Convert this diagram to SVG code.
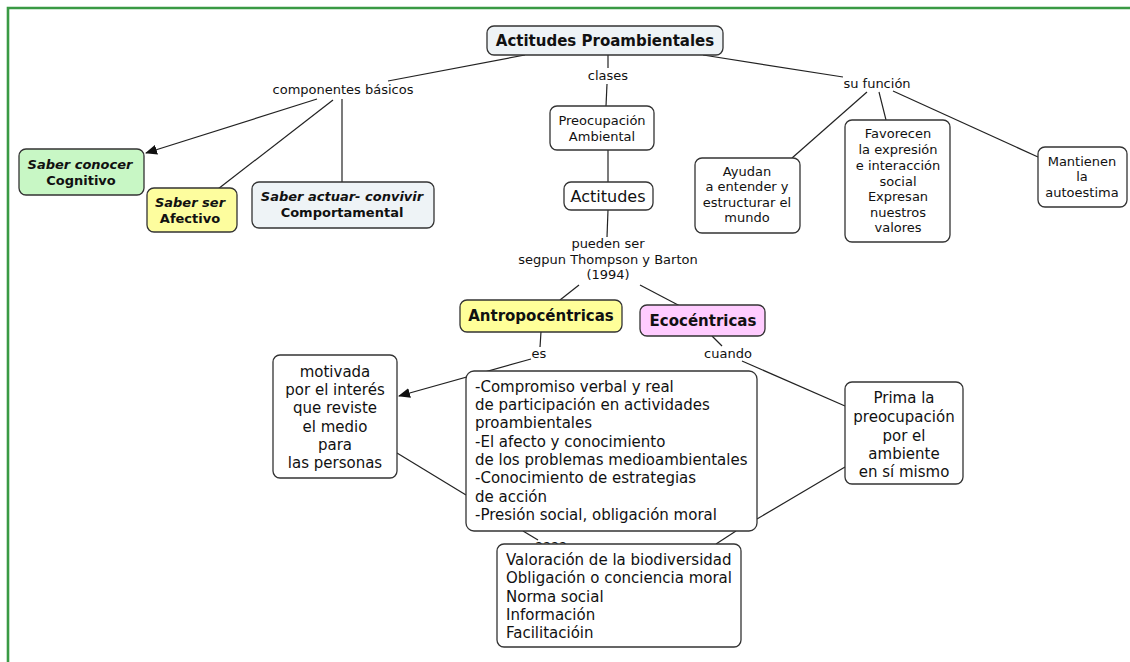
<svg xmlns="http://www.w3.org/2000/svg" width="1130" height="662" viewBox="0 0 1130 662">
<defs>
<style>
text{font-family:"DejaVu Sans",Verdana,"Liberation Sans",sans-serif;fill:#111}
.box{stroke:#333;stroke-width:1.3;fill:#fff}
.c{text-anchor:middle}
.s13{font-size:13px}
.s15{font-size:15px}
.b{font-weight:bold}
.bi{font-weight:bold;font-style:italic}
.ln{stroke:#222;stroke-width:1.2;fill:none}
</style>
<marker id="arr" viewBox="0 0 12 10" refX="11" refY="5" markerWidth="12" markerHeight="10" markerUnits="userSpaceOnUse" orient="auto">
<path d="M0,0 L12,5 L0,10 z" fill="#111"/>
</marker>
</defs>
<rect x="0" y="0" width="1130" height="662" fill="#fff"/>
<path d="M8,662 V8 H1130" fill="none" stroke="#3a9a44" stroke-width="2.6"/>

<g id="connectors">
<line class="ln" x1="525" y1="55" x2="388" y2="81"/>
<line class="ln" x1="317" y1="99" x2="146" y2="153" marker-end="url(#arr)"/>
<line class="ln" x1="333" y1="100" x2="218" y2="189"/>
<line class="ln" x1="342" y1="99" x2="342" y2="182"/>
<line class="ln" x1="608" y1="55" x2="608" y2="68"/>
<line class="ln" x1="607" y1="84" x2="606" y2="106"/>
<line class="ln" x1="608" y1="150" x2="608" y2="182"/>
<line class="ln" x1="608" y1="210" x2="607" y2="237"/>
<line class="ln" x1="579" y1="285" x2="560" y2="300"/>
<line class="ln" x1="640" y1="285" x2="680" y2="306"/>
<line class="ln" x1="541" y1="332" x2="540" y2="347"/>
<line class="ln" x1="531" y1="359" x2="399" y2="396" marker-end="url(#arr)"/>
<line class="ln" x1="397" y1="453" x2="466" y2="495"/>
<line class="ln" x1="712" y1="336" x2="722" y2="346"/>
<line class="ln" x1="742" y1="361" x2="845" y2="406"/>
<line class="ln" x1="845" y1="467" x2="757" y2="519"/>
<line class="ln" x1="523" y1="531" x2="538" y2="540"/>
<line class="ln" x1="736" y1="531" x2="716" y2="544"/>
<line class="ln" x1="703" y1="55" x2="843" y2="77"/>
<line class="ln" x1="867" y1="92" x2="792" y2="158"/>
<line class="ln" x1="879" y1="92" x2="886" y2="120"/>
<line class="ln" x1="893" y1="91" x2="1038" y2="157"/>
</g>

<g id="labels">
<text class="c s13" x="343" y="94">componentes básicos</text>
<text class="c s13" x="608" y="80">clases</text>
<text class="c s13" x="877" y="88">su función</text>
<text class="c s13" x="608" y="248">pueden ser</text>
<text class="c s13" x="608" y="264">segpun Thompson y Barton</text>
<text class="c s13" x="608" y="279">(1994)</text>
<text class="c s13" x="539" y="358">es</text>
<text class="c s13" x="728" y="358">cuando</text>
<text class="s13" x="535" y="549">aaaa</text>
</g>

<g id="n-title">
<rect class="box" x="487" y="26" width="236" height="29" rx="7" fill="#eef3f6" style="fill:#eef3f6"/>
<text class="c b" x="605" y="46" style="font-size:15px">Actitudes Proambientales</text>
</g>

<g id="n-cognitivo">
<rect class="box" x="19" y="149" width="125" height="46" rx="7" style="fill:#c8f7c5"/>
<text class="c s13 bi" x="80" y="169">Saber conocer</text>
<text class="c s13 b" x="81" y="185">Cognitivo</text>
</g>

<g id="n-afectivo">
<rect class="box" x="147" y="188" width="90" height="44" rx="7" style="fill:#fdfd9e"/>
<text class="c s13 bi" x="190" y="207">Saber ser</text>
<text class="c s13 b" x="190" y="223">Afectivo</text>
</g>

<g id="n-comportamental">
<rect class="box" x="252" y="182" width="182" height="46" rx="7" style="fill:#eef3f6"/>
<text class="c s13 bi" x="342" y="201">Saber actuar- convivir</text>
<text class="c s13 b" x="342" y="217">Comportamental</text>
</g>

<g id="n-preocupacion">
<rect class="box" x="550" y="106" width="104" height="44" rx="7"/>
<text class="c s13" x="602" y="125">Preocupación</text>
<text class="c s13" x="602" y="141">Ambiental</text>
</g>

<g id="n-actitudes">
<rect class="box" x="564" y="182" width="89" height="28" rx="7"/>
<text class="c" x="608" y="202" style="font-size:16px">Actitudes</text>
</g>

<g id="n-ayudan">
<rect class="box" x="695" y="158" width="105" height="75" rx="7"/>
<text class="c s13" x="747" y="176">Ayudan</text>
<text class="c s13" x="747" y="191">a entender y</text>
<text class="c s13" x="747" y="207">estructurar el</text>
<text class="c s13" x="747" y="222">mundo</text>
</g>

<g id="n-favorecen">
<rect class="box" x="845" y="120" width="105" height="122" rx="7"/>
<text class="c s13" x="898" y="138">Favorecen</text>
<text class="c s13" x="898" y="154">la expresión</text>
<text class="c s13" x="898" y="170">e interacción</text>
<text class="c s13" x="898" y="186">social</text>
<text class="c s13" x="898" y="201">Expresan</text>
<text class="c s13" x="898" y="217">nuestros</text>
<text class="c s13" x="898" y="232">valores</text>
</g>

<g id="n-mantienen">
<rect class="box" x="1038" y="147" width="89" height="60" rx="7"/>
<text class="c s13" x="1082" y="166">Mantienen</text>
<text class="c s13" x="1082" y="181">la</text>
<text class="c s13" x="1082" y="197">autoestima</text>
</g>

<g id="n-antropocentricas">
<rect class="box" x="460" y="300" width="162" height="32" rx="7" style="fill:#ffff99"/>
<text class="c b" x="541" y="321" style="font-size:15px">Antropocéntricas</text>
</g>

<g id="n-ecocentricas">
<rect class="box" x="640" y="305" width="125" height="31" rx="7" style="fill:#ffccff"/>
<text class="c b" x="703" y="326" style="font-size:15px">Ecocéntricas</text>
</g>

<g id="n-motivada">
<rect class="box" x="273" y="355" width="124" height="123" rx="7"/>
<text class="c s15" x="335" y="377">motivada</text>
<text class="c s15" x="335" y="395">por el interés</text>
<text class="c s15" x="335" y="413">que reviste</text>
<text class="c s15" x="335" y="432">el medio</text>
<text class="c s15" x="335" y="450">para</text>
<text class="c s15" x="335" y="468">las personas</text>
</g>

<g id="n-compromiso">
<rect class="box" x="466" y="371" width="291" height="160" rx="8"/>
<text class="s15" x="475" y="392">-Compromiso verbal y real</text>
<text class="s15" x="475" y="410">de participación en actividades</text>
<text class="s15" x="475" y="428">proambientales</text>
<text class="s15" x="475" y="447">-El afecto y conocimiento</text>
<text class="s15" x="475" y="465">de los problemas medioambientales</text>
<text class="s15" x="475" y="483">-Conocimiento de estrategias</text>
<text class="s15" x="475" y="502">de acción</text>
<text class="s15" x="475" y="520">-Presión social, obligación moral</text>
</g>

<g id="n-prima">
<rect class="box" x="845" y="382" width="118" height="102" rx="7"/>
<text class="c s15" x="904" y="403">Prima la</text>
<text class="c s15" x="904" y="422">preocupación</text>
<text class="c s15" x="904" y="441">por el</text>
<text class="c s15" x="904" y="459">ambiente</text>
<text class="c s15" x="904" y="477">en sí mismo</text>
</g>

<g id="n-valoracion">
<rect class="box" x="497" y="544" width="244" height="103" rx="7"/>
<text class="s15" x="506" y="565">Valoración de la biodiversidad</text>
<text class="s15" x="506" y="583">Obligación o conciencia moral</text>
<text class="s15" x="506" y="602">Norma social</text>
<text class="s15" x="506" y="620">Información</text>
<text class="s15" x="506" y="638">Facilitacióin</text>
</g>
</svg>
